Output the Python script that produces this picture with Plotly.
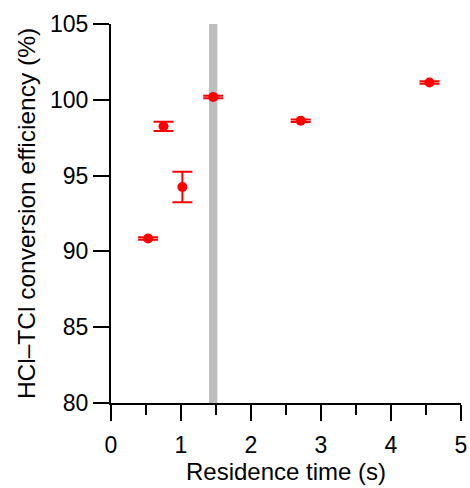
import plotly.graph_objects as go

# Residence time (s) and conversion efficiency (%) with uncertainties
residence_time = [0.53, 0.75, 1.02, 1.46, 2.71, 4.55]
efficiency = [90.85, 98.25, 94.25, 100.18, 98.62, 101.14]
efficiency_err = [0.08, 0.3, 1.0, 0.08, 0.08, 0.08]

# Highlighted residence-time window
band_x = [1.40, 1.52]

x_ticks = [0, 1, 2, 3, 4, 5]
y_ticks = [80, 85, 90, 95, 100, 105]

font_family = "Liberation Sans, Arial, sans-serif"

fig = go.Figure()

fig.add_shape(
    type="rect", xref="x", yref="paper",
    x0=band_x[0], x1=band_x[1], y0=0, y1=1,
    fillcolor="#bebebe", line=dict(width=0), layer="below",
)

fig.add_trace(go.Scatter(
    x=residence_time, y=efficiency,
    mode="markers",
    marker=dict(color="#ff0000", size=10),
    error_y=dict(type="data", array=efficiency_err, color="#ff0000",
                 thickness=2, width=10),
    showlegend=False,
    cliponaxis=False,
))

fig.update_layout(
    width=470, height=488,
    margin=dict(l=111, r=9, t=24, b=85),
    plot_bgcolor="white", paper_bgcolor="white",
    font=dict(family=font_family, size=23, color="black"),
    xaxis=dict(
        range=[0, 5], tickvals=x_ticks, ticks="outside", ticklen=16, tickwidth=2,
        tickcolor="black", tickfont=dict(size=23, color="black"), ticklabelstandoff=4,
        showline=True, linewidth=2, linecolor="black", showgrid=False, zeroline=False,
        automargin=False,
        minor=dict(dtick=0.5, ticks="outside", ticklen=10, tickwidth=2, tickcolor="black"),
        title=dict(text="Residence time (s)", standoff=6, font=dict(size=24, color="black")),
    ),
    yaxis=dict(
        range=[80, 105], tickvals=y_ticks, ticks="outside", ticklen=16, tickwidth=2,
        tickcolor="black", tickfont=dict(size=23, color="black"),
        showline=True, linewidth=2, linecolor="black", showgrid=False, zeroline=False,
        automargin=False,
        title=dict(text="HCl–TCl conversion efficiency (%)", standoff=7,
                   font=dict(size=24.5, color="black")),
    ),
)

fig.write_html("out.html")
